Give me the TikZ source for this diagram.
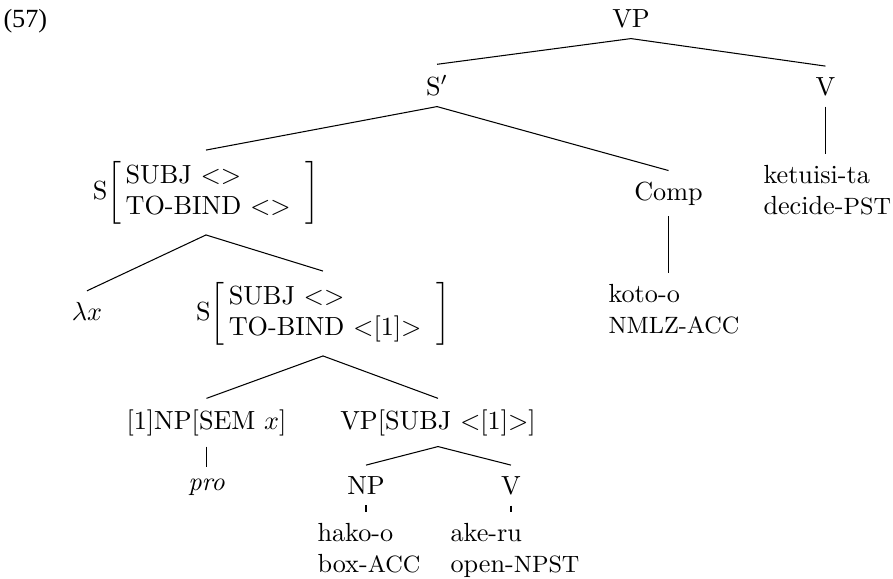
\documentclass[tikz,border=0pt]{standalone}
\usepackage{fontspec}
\newfontfamily\exfont{Liberation Serif}
\tikzset{
  cat/.style={inner xsep=1pt, inner ysep=4pt, anchor=base},
  avm/.style={inner xsep=1pt, inner ysep=4pt},
  gloss/.style={align=left, inner xsep=0pt, inner ysep=4pt, anchor=north west}
}
\newcommand{\avmbox}[2]{$\left[\begin{tabular}{@{\,}l@{\;\;}}#1\\#2\end{tabular}\right]$}
\newcommand{\glab}[1]{{\small #1}}
\begin{document}
\begin{tikzpicture}[x=0.3817pt, y=-0.3817pt]
	\useasboundingbox (0,0) rectangle (893,578);
	\node[anchor=base west, inner sep=0pt] (exno) at (3,27) {\exfont (57)};
	
	% upper part of the tree
	\node[cat] (vp) at (631,27) {VP};
	\node[cat] (sbar) at (437,95) {S$'$};
	\node[cat] (vtop) at (825.5,95) {V};
	\node[cat] (comp) at (668.5,200) {Comp};
	\node[avm] (avmA) at (206,192.5) {S\avmbox{SUBJ $<>$}{TO-BIND $<>$}};
	\node[cat] (lam) at (87,320) {$\lambda x$};
	\node[avm] (avmB) at (323,313.5) {S\avmbox{SUBJ $<>$}{TO-BIND $<$[1]$>$}};
	
	% lower part
	\node[cat] (np1) at (206.5,429) {[1]NP[SEM $x$]};
	\node[cat] (vpsubj) at (438,429) {VP[SUBJ $<$[1]$>$]};
	\node[cat] (pro) at (206.5,490) {\textit{pro}};
	\node[cat] (np) at (366,494) {NP};
	\node[cat] (vlow) at (511,494) {V};
	
	% glosses
	\node[gloss] (ket) at (763,154) {ketuisi-ta\\decide-\glab{PST}};
	\node[gloss] (koto) at (608,273) {koto-o\\\glab{NMLZ-ACC}};
	\node[gloss] (hako) at (317,512) {hako-o\\box-\glab{ACC}};
	\node[gloss] (ake) at (450,512) {ake-ru\\open-\glab{NPST}};
	
	\foreach \a/\b in {vp/sbar, vp/vtop, sbar/avmA, sbar/comp, avmA/lam, avmA/avmB, avmB/np1, avmB/vpsubj, np1/pro, vpsubj/np, vpsubj/vlow}
	{
		\draw (\a.south) -- (\b.north);
	}
	\foreach \a/\b in {vtop/ket, comp/koto, np/hako, vlow/ake}
	{
		\draw (\a.south) -- (\a.south |- \b.north);
	}
\end{tikzpicture}
\end{document}
